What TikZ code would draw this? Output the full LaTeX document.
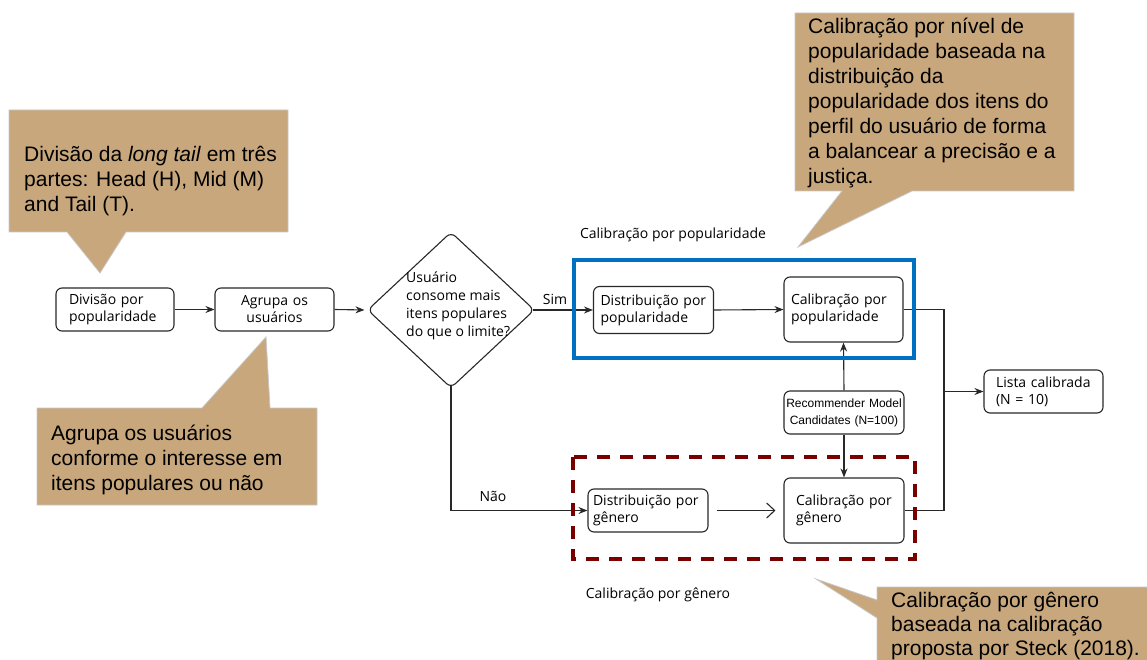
\documentclass[tikz,border=0pt]{standalone}
\usepackage{fontspec}
\setmainfont{Open Sans}
\newfontfamily\arialf{Liberation Sans}
\usetikzlibrary{arrows.meta,shapes.geometric}
\definecolor{tanfill}{RGB}{201,167,124}
\definecolor{calloutedge}{RGB}{200,200,200}
\definecolor{popblue}{RGB}{0,112,192}
\definecolor{genred}{RGB}{122,0,0}
\definecolor{linec}{RGB}{40,40,40}
\begin{document}
\begin{tikzpicture}[x=1pt,y=-1pt,
 box/.style={draw=linec, line width=1.1pt, rounded corners=6pt, inner ysep=0pt, font=\fontsize{14}{17}\selectfont},
 lbox/.style={box, align=left},
 cbox/.style={box, align=center},
 conn/.style={draw=linec, line width=1.1pt},
 arr/.style={conn, -{Stealth[length=9pt,width=7pt]}},
 openarr/.style={conn, -{Straight Barb[length=8pt,width=15pt,line width=1.1pt]}},
 callout/.style={fill=tanfill, draw=calloutedge, line width=0.8pt},
 ctext/.style={anchor=base west, align=left, inner sep=0pt, font=\arialf\fontsize{21}{25}\selectfont},
 lab/.style={inner sep=0pt, anchor=base, font=\fontsize{14}{17}\selectfont}
]
\useasboundingbox (0,0) rectangle (1147,660);

% callouts (text nodes are anchored at the baseline of their last line)
\path[callout] (9,110) -- (288,110) -- (288,232) -- (126,232) -- (100,273) -- (67,232) -- (9,232) -- cycle;
\node[ctext] (c1) at (24,212) {Divisão da \textit{long tail} em três\\partes: Head (H), Mid (M)\\and Tail (T).};

\path[callout] (37,408) -- (202,408) -- (266,337) -- (270,408) -- (317,408) -- (317,505) -- (37,505) -- cycle;
\node[ctext] (c2) at (51,490) {Agrupa os usuários\\conforme o interesse em\\itens populares ou não};

\path[callout] (795,13) -- (1074,13) -- (1074,191) -- (912,191) -- (798,247) -- (842,191) -- (795,191) -- cycle;
\node[ctext] (c3) at (808,184) {Calibração por nível de\\popularidade baseada na\\distribuição da\\popularidade dos itens do\\perfil do usuário de forma\\a balancear a precisão e a\\justiça.};

\path[callout] (877,587) -- (1150,587) -- (1150,665) -- (877,665) -- (877,618) -- (816,579) -- (877,600) -- cycle;
\node[ctext, font=\arialf\fontsize{21}{24}\selectfont] (c4) at (891,655) {Calibração por gênero\\baseada na calibração\\proposta por Steck (2018).};

% nodes
\node[lbox, text width=92pt, inner xsep=13pt, minimum height=43pt] (n1) at (115,309.5) {Divisão por\\popularidade};
\node[cbox, text width=95pt, inner xsep=12pt, minimum height=43pt] (n2) at (274.5,309.5) {Agrupa os\\usuários};
\node[draw=linec, line width=1.1pt, diamond, minimum width=167pt, minimum height=156pt, inner sep=0pt, rounded corners=6pt] (dec) at (451,310) {};
\node[anchor=base west, align=left, inner sep=0pt, font=\fontsize{14}{18}\selectfont] (dectext) at (406,336) {Usuário\\consome mais\\itens populares\\do que o limite?};
\node[lbox, text width=106pt, inner xsep=7pt, minimum height=47pt] (n3) at (653.5,310) {Distribuição por\\popularidade};
\node[lbox, text width=105pt, inner xsep=7pt, minimum height=65pt] (n4) at (843.5,309.5) {Calibração por\\popularidade};
\node[cbox, font=\arialf\fontsize{12}{17}\selectfont, text width=116pt, inner xsep=2pt, minimum height=43pt] (rec) at (844,412.5) {Recommender Model\\Candidates (N=100)};
\node[lbox, text width=110pt, inner xsep=5pt, minimum height=43pt] (n5) at (648,510.5) {Distribuição por\\gênero};
\node[lbox, text width=96pt, inner xsep=12pt, minimum height=65pt] (n6) at (844,510.5) {Calibração por\\gênero};
\node[lbox, text width=95pt, inner xsep=12pt, minimum height=43pt] (lista) at (1043.5,391.5) {Lista calibrada\\(N = 10)};

% labels
\node[lab] (simlab) at (555,304) {Sim};
\node[lab] (naolab) at (493,501) {Não};
\node[lab] (poplab) at (673,239) {Calibração por popularidade};
\node[lab] (genlab) at (658,598) {Calibração por gênero};

% connectors
\draw[arr] (n1.east) -- (n2.west);
\draw[arr, shorten >=2.5pt] (n2.east) -- (dec.west);
\draw[arr, shorten <=-2.5pt] (dec.east) -- (n3.west);
\draw[arr] (n3.east) -- (n4.west);
\draw[arr, shorten <=-2.5pt] (dec.south) |- (n5.west);
\draw[openarr, shorten <=8pt, shorten >=8pt] (n5.east) -- (n6.west);
\draw[arr] (rec.north) -- (n4.south);
\draw[arr] (rec.south) -- (n6.north);
\coordinate (join) at (944,391.5);
\draw[conn] (n4.east) -| (join) |- (n6.east);
\draw[arr] (join) -- (lista.west);

% frames
\draw[popblue, line width=4pt] (574,260) rectangle (914,358);
\draw[genred, line width=4pt, dash pattern=on 13pt off 10pt] (573,457) rectangle (915,559);
\end{tikzpicture}
\end{document}
